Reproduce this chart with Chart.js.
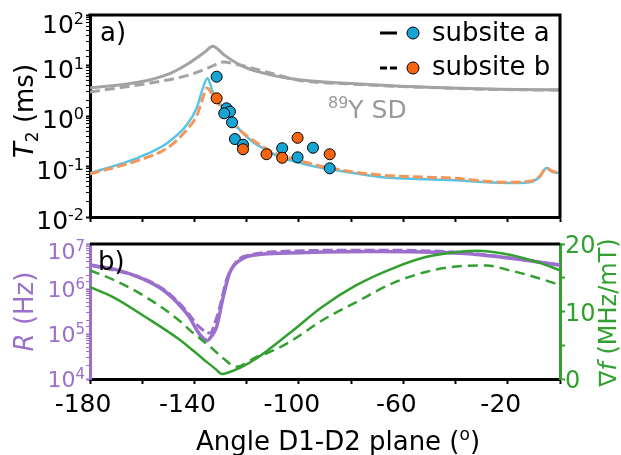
<!DOCTYPE html>
<html>
<head>
<meta charset="utf-8">
<script src="https://cdn.jsdelivr.net/npm/chart.js@4.4.1/dist/chart.umd.min.js"></script>
<style>
  body { margin: 0; background: #fff; }
  #wrap { position: relative; width: 621px; height: 455px; overflow: hidden; }
  canvas { position: absolute; left: 0; }
</style>
</head>
<body>
<div id="wrap">
  <canvas id="t2chart" width="621" height="230" style="top:0"></canvas>
  <canvas id="ratechart" width="621" height="225" style="top:230px"></canvas>
</div>
<script>
// ---- panel a) T2 vs angle ----
const angleSdA = [-180, -161, -149, -142, -136, -133, -128.5, -122.5, -115, -100, -80, -61, -42, -23, 0]
const sdA = [3.6, 4.7, 7.1, 11.2, 18.5, 24, 16, 10.2, 7.4, 5.2, 4.4, 3.9, 3.6, 3.4, 3.3]
const angleSdB = [-180, -157, -142, -134, -129, -122.5, -111, -100, -80, -61, -42, -23, 0]
const sdB = [3.0, 4.5, 6.5, 9.3, 11.7, 10.2, 7.1, 5.1, 4.3, 3.85, 3.55, 3.35, 3.25]

const angleT2a = [-180, -176, -161, -150.5, -143, -139, -137, -135, -133, -130.3, -126.4, -122.6, -117.6, -112.3, -107.3, -100.8, -94.7, -81.7, -69, -42, -20.5, -11.7, -7.8, -5.2, -3, 0]
const t2a = [0.074, 0.085, 0.154, 0.29, 0.66, 1.5, 3.3, 5.6, 3.0, 1.8, 0.91, 0.53, 0.305, 0.21, 0.154, 0.123, 0.102, 0.078, 0.062, 0.054, 0.047, 0.049, 0.062, 0.093, 0.078, 0.074]
const angleT2b = [-180, -161, -150.5, -143, -139, -137, -135.2, -133, -129, -123.8, -117.6, -110, -100.8, -88, -69, -42, -20.5, -11.7, -7.8, -5.2, -3, 0]
const t2b = [0.071, 0.135, 0.23, 0.53, 1.05, 2.1, 3.6, 2.6, 1.3, 0.6, 0.33, 0.194, 0.135, 0.093, 0.068, 0.059, 0.049, 0.051, 0.064, 0.093, 0.081, 0.074]

// measured points
const ptAngleA = [-131.5, -127.7, -126.4, -128.6, -125.6, -124.5, -121.4, -106.4, -100.5, -94.6, -88.2]
const ptT2a = [6.0, 1.42, 1.22, 1.13, 0.75, 0.35, 0.27, 0.23, 0.152, 0.235, 0.092]
const ptAngleB = [-131.5, -121.4, -112.4, -106.4, -100.5, -88.2]
const ptT2b = [2.24, 0.22, 0.175, 0.149, 0.37, 0.175]

// ---- panel b) R and gradient vs angle ----
const angleRa = [-180, -170, -160, -152, -146, -142, -139, -136.5, -135, -133.5, -131.5, -129, -126.5, -122.5, -116, -104, -73, -38, -19, 0]
const rA = [3.4e6, 2.7e6, 1.7e6, 9.5e5, 4.6e5, 2.4e5, 1.2e5, 7.9e4, 7.2e4, 8.9e4, 1.45e5, 6.6e5, 2.3e6, 4.4e6, 5.8e6, 6.3e6, 6.8e6, 6.2e6, 4.8e6, 3.4e6]
const angleRb = [-180, -160, -152, -146, -142, -138.5, -134, -132, -130.3, -127.7, -125.3, -122.6, -118.8, -110, -73, -38, -19, 0]
const rB = [3.4e6, 1.75e6, 1.0e6, 5.0e5, 2.7e5, 1.5e5, 1.05e5, 1.9e5, 4.0e5, 1.6e6, 3.1e6, 4.8e6, 5.7e6, 6.7e6, 7.3e6, 6.5e6, 4.9e6, 3.4e6]

const angleGa = [-180, -171, -158, -145.6, -141.7, -135.2, -132, -129.5, -126.5, -122.6, -116, -103.5, -91, -78, -64, -51, -38.5, -32, -19.3, -7.8, 0]
const gradA = [13.6, 12.1, 9.0, 5.8, 4.6, 2.5, 1.5, 0.74, 1.04, 1.63, 3.1, 6.8, 10.7, 13.9, 16.4, 18.1, 18.85, 19.0, 18.4, 17.2, 16.1]
const angleGb = [-180, -171, -158, -145.6, -141.7, -134, -129, -124, -116, -112.3, -103.5, -91, -78, -64, -51, -38.5, -28, -19.3, -7.8, 0]
const gradB = [16.1, 14.7, 12.0, 8.6, 7.2, 4.8, 3.07, 1.82, 3.3, 3.8, 5.5, 8.7, 11.4, 14.2, 15.9, 16.7, 16.8, 16.1, 14.9, 13.9]

// ticks / labels
const angleTickLabels = [-180, -140, -100, -60, -20]
const t2TickExp = [-2, -1, 0, 1, 2]
const rTickExp = [4, 5, 6, 7]
const gradTickLabels = [0, 10, 20]
const seriesNames = ['subsite a', 'subsite b']

const FONT = '"DejaVu Sans", Verdana, sans-serif'
const BLUE_LINE = '#55c4e8'
const BLUE_PT = '#17a5d6'
const ORANGE_LINE = '#f4955a'
const ORANGE_PT = '#f7650f'
const GRAY = '#a3a3a3'
const PURPLE = '#9b6fcb'
const GREEN = '#31a02f'

function pts(xs, ys) {
  return xs.map((x, i) => ({x: x, y: ys[i]}))
}

function fontOf(p) {
  return (p.it ? 'italic ' : '') + p.s + 'px ' + FONT
}

function drawParts(ctx, parts, x, y, align) {
  let total = 0
  parts.forEach(p => { ctx.font = fontOf(p); p.w = ctx.measureText(p.t).width; total += p.w })
  let cx = x
  if (align === 'right') cx = x - total
  if (align === 'center') cx = x - total / 2
  ctx.textAlign = 'left'
  ctx.textBaseline = 'alphabetic'
  parts.forEach(p => {
    ctx.font = fontOf(p)
    ctx.fillText(p.t, cx, y + (p.dy || 0))
    cx += p.w
  })
}

function drawVertical(ctx, parts, baseX, centerY) {
  ctx.save()
  ctx.translate(baseX, centerY)
  ctx.rotate(-Math.PI / 2)
  drawParts(ctx, parts, 0, 0, 'center')
  ctx.restore()
}

const sup = n => (n < 0 ? '-' : '') + Math.abs(n)

function lineSet(data, color, width, dash, order, axis) {
  return {
    data: data, borderColor: color, borderWidth: width, borderDash: dash || [],
    pointRadius: 0, fill: false, cubicInterpolationMode: 'monotone', order: order,
    yAxisID: axis || 'y'
  }
}

function pointSet(data, color, order) {
  return {
    data: data, showLine: false, pointRadius: 5.5, pointBorderWidth: 1,
    pointBackgroundColor: color, pointBorderColor: '#000', order: order
  }
}

function xAxis(height) {
  return {
    type: 'linear', min: -180, max: 0,
    ticks: {display: false, stepSize: 20},
    grid: {drawOnChartArea: false, drawTicks: true, tickLength: 5, tickWidth: 2, tickColor: '#000'},
    border: {display: true, color: '#000', width: 3},
    afterFit: s => { s.height = height }
  }
}

const panelA = {
  id: 'panelA',
  afterDraw(chart) {
    const ctx = chart.ctx
    const a = chart.chartArea
    const ys = chart.scales.y
    ctx.save()
    ctx.strokeStyle = '#000'
    ctx.lineWidth = 3
    ctx.beginPath()
    ctx.moveTo(a.left - 1.5, a.top)
    ctx.lineTo(a.right, a.top)
    ctx.lineTo(a.right, a.bottom + 1.5)
    ctx.stroke()

    ctx.fillStyle = '#000'
    t2TickExp.forEach(n => {
      const py = ys.getPixelForValue(Math.pow(10, n))
      const off = n === 2 ? 18 : 12
      drawParts(ctx, [{t: '10', s: 25}, {t: sup(n), s: 16, dy: -9}], 84, py + off, 'right')
    })
    drawVertical(ctx, [{t: 'T', s: 26, it: true}, {t: '2', s: 17, dy: 5}, {t: ' (ms)', s: 26}], 33, 111)
    drawParts(ctx, [{t: 'a)', s: 26}], 100, 41, 'left')

    ctx.fillStyle = '#999'
    drawParts(ctx, [{t: '89', s: 16, dy: -10}, {t: 'Y SD', s: 25}], 328, 118, 'left')

    // legend
    ctx.strokeStyle = '#000'
    ctx.lineWidth = 3
    ctx.beginPath(); ctx.moveTo(380, 33); ctx.lineTo(397, 33); ctx.stroke()
    ctx.setLineDash([7, 3])
    ctx.beginPath(); ctx.moveTo(380, 68); ctx.lineTo(397, 68); ctx.stroke()
    ctx.setLineDash([])
    ctx.lineWidth = 1
    ;[[33, BLUE_PT], [68, ORANGE_PT]].forEach(m => {
      ctx.beginPath(); ctx.arc(413, m[0], 6, 0, Math.PI * 2)
      ctx.fillStyle = m[1]; ctx.fill(); ctx.stroke()
    })
    ctx.fillStyle = '#000'
    drawParts(ctx, [{t: seriesNames[0], s: 26}], 432, 41, 'left')
    drawParts(ctx, [{t: seriesNames[1], s: 26}], 432, 75, 'left')
    ctx.restore()
  }
}

const panelB = {
  id: 'panelB',
  afterDraw(chart) {
    const ctx = chart.ctx
    const a = chart.chartArea
    const ys = chart.scales.y
    const y1 = chart.scales.y1
    const xs = chart.scales.x
    ctx.save()
    ctx.strokeStyle = '#000'
    ctx.lineWidth = 3
    ctx.beginPath()
    ctx.moveTo(a.left, a.top)
    ctx.lineTo(a.right, a.top)
    ctx.stroke()

    ctx.fillStyle = PURPLE
    rTickExp.forEach(n => {
      const py = ys.getPixelForValue(Math.pow(10, n))
      const off = n === 7 ? 15 : 8
      drawParts(ctx, [{t: '10', s: 22}, {t: sup(n), s: 15, dy: -8}], 85, py + off, 'right')
    })
    drawVertical(ctx, [{t: 'R', s: 26, it: true}, {t: ' (Hz)', s: 26}], 33, 81.5)

    ctx.fillStyle = GREEN
    gradTickLabels.forEach(v => {
      const py = y1.getPixelForValue(v)
      drawParts(ctx, [{t: String(v), s: 24}], 565, py + 9, 'left')
    })
    drawVertical(ctx, [{t: '\u2207', s: 24}, {t: 'f', s: 24, it: true}, {t: ' (MHz/mT)', s: 24}], 616, 82.5)

    ctx.fillStyle = '#000'
    angleTickLabels.forEach(v => {
      drawParts(ctx, [{t: String(v), s: 25}], xs.getPixelForValue(v) - 7, a.bottom + 33, 'center')
    })
    drawParts(ctx, [{t: 'Angle D1-D2 plane (', s: 26}, {t: 'o', s: 17, dy: -10}, {t: ')', s: 26}], 338, 220, 'center')
    drawParts(ctx, [{t: 'b)', s: 26}], 98, 40, 'left')
    ctx.restore()
  }
}

new Chart(document.getElementById('t2chart'), {
  type: 'line',
  data: {
    datasets: [
      lineSet(pts(angleSdA, sdA), GRAY, 3, [], 7),
      lineSet(pts(angleSdB, sdB), GRAY, 3, [10, 5], 6),
      lineSet(pts(angleT2a, t2a), BLUE_LINE, 2.5, [], 5),
      lineSet(pts(angleT2b, t2b), ORANGE_LINE, 3, [10, 4], 4),
      pointSet(pts(ptAngleA, ptT2a), BLUE_PT, 3),
      pointSet(pts(ptAngleB, ptT2b), ORANGE_PT, 2)
    ]
  },
  options: {
    responsive: false, maintainAspectRatio: false, animation: false, devicePixelRatio: 1,
    layout: {padding: {top: 15, right: 61, left: 0, bottom: 0}},
    plugins: {legend: {display: false}, tooltip: {enabled: false}},
    scales: {
      x: xAxis(13),
      y: {
        type: 'logarithmic', min: 0.01, max: 100,
        ticks: {display: false},
        grid: {drawOnChartArea: false, drawTicks: true, tickLength: 4,
          tickWidth: c => (c.tick && c.tick.major ? 2 : 1), tickColor: '#000'},
        border: {display: true, color: '#000', width: 3},
        afterFit: s => { s.width = 90 }
      }
    }
  },
  plugins: [panelA]
})

new Chart(document.getElementById('ratechart'), {
  type: 'line',
  data: {
    datasets: [
      lineSet(pts(angleRa, rA), PURPLE, 3.5, [], 4),
      lineSet(pts(angleRb, rB), PURPLE, 3, [10, 4], 3),
      lineSet(pts(angleGa, gradA), GREEN, 2.5, [], 2, 'y1'),
      lineSet(pts(angleGb, gradB), GREEN, 2.5, [10, 6], 1, 'y1')
    ]
  },
  options: {
    responsive: false, maintainAspectRatio: false, animation: false, devicePixelRatio: 1,
    layout: {padding: {top: 14, right: 0, left: 0, bottom: 0}},
    plugins: {legend: {display: false}, tooltip: {enabled: false}},
    scales: {
      x: xAxis(76),
      y: {
        type: 'logarithmic', min: 1e4, max: 1e7, position: 'left',
        ticks: {display: false},
        grid: {drawOnChartArea: false, drawTicks: true, tickLength: 4,
          tickWidth: c => (c.tick && c.tick.major ? 2 : 1), tickColor: PURPLE},
        border: {display: true, color: PURPLE, width: 3},
        afterFit: s => { s.width = 90 }
      },
      y1: {
        type: 'linear', min: 0, max: 20, position: 'right',
        ticks: {display: false, stepSize: 5},
        grid: {drawOnChartArea: false, drawTicks: true, tickLength: 5, tickWidth: 2, tickColor: GREEN},
        border: {display: true, color: GREEN, width: 3},
        afterFit: s => { s.width = 61 }
      }
    }
  },
  plugins: [panelB]
})
</script>
</body>
</html>
